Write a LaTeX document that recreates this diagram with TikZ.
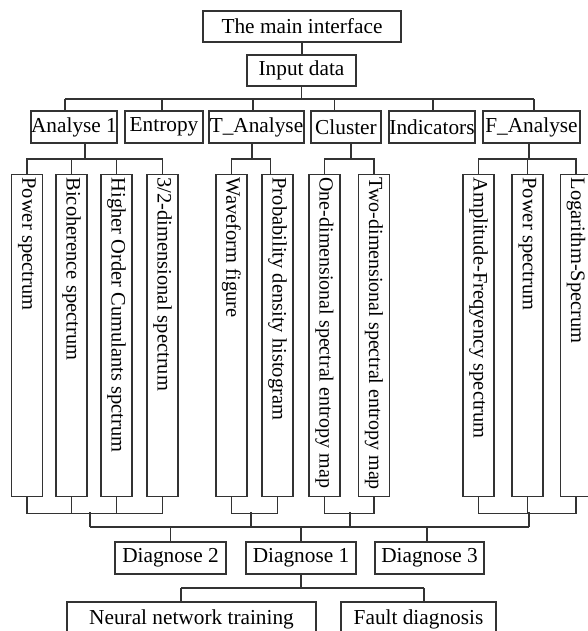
\documentclass[tikz,border=0pt]{standalone}
\usepackage{fontspec}
\setmainfont{Liberation Serif}
\newcommand{\fs}{\fontsize{21.3}{25}\selectfont}
\newcommand{\fv}{\fontsize{20.5}{24}\selectfont}
\newcommand{\vtxt}[1]{\makebox[316pt][l]{#1}}
\begin{document}
\begin{tikzpicture}[x=1pt,y=-1pt,
  ln/.style={line width=1.1pt, draw=black!80},
  hbox/.style={draw=black!80, line width=1.1pt, inner sep=0pt, font=\fs},
  vbox/.style={draw=black!80, line width=1.1pt, rotate=-90, anchor=west,
    minimum width=322pt, minimum height=31pt,
    inner xsep=3pt, inner ysep=0pt, font=\fv},
]
\useasboundingbox (0,0) rectangle (587,631);

% top
\node[hbox, minimum width=198pt, minimum height=31pt] (main) at (302,26.5) {The main interface};
\node[hbox, minimum width=109pt, minimum height=31pt] (in) at (301.5,70.5) {Input data};

% level 2
\node[hbox, minimum width=86pt, minimum height=32pt] (a1) at (74,127) {Analyse 1};
\node[hbox, minimum width=78pt, minimum height=32pt] (ent) at (164,127) {Entropy};
\node[hbox, minimum width=95pt, minimum height=32pt] (ta) at (256.5,127) {T\_Analyse};
\node[hbox, minimum width=70pt, minimum height=32pt] (cl) at (346,127) {Cluster};
\node[hbox, minimum width=86pt, minimum height=32pt] (ind) at (432,127) {Indicators};
\node[hbox, minimum width=97pt, minimum height=32pt] (fa) at (531.5,127) {F\_Analyse};

% tall boxes
\node[vbox] (p1) at (27,174) {\vtxt{Power spectrum}};
\node[vbox] (p2) at (71.5,174) {\vtxt{Bicoherence spectrum}};
\node[vbox] (p3) at (116.5,174) {\vtxt{Higher Order Cumulants spctrum}};
\node[vbox] (p4) at (162.5,174) {\vtxt{3/2-dimensional spectrum}};
\node[vbox] (t1) at (231.5,174) {\vtxt{Waveform figure}};
\node[vbox] (t2) at (277.5,174) {\vtxt{Probability density histogram}};
\node[vbox, font=\fontsize{20}{24}\selectfont] (c1) at (324.5,174) {\vtxt{One-dimensional spectral entropy map}};
\node[vbox, font=\fontsize{20}{24}\selectfont] (c2) at (374,174) {\vtxt{Two-dimensional spectral entropy map}};
\node[vbox] (f1) at (478.5,174) {\vtxt{Amplitude-Freqyency spectrum}};
\node[vbox] (f2) at (527.5,174) {\vtxt{Power spectrum}};
\node[vbox] (f3) at (576,174) {\vtxt{Logarithm-Specrum}};

% diagnose
\node[hbox, minimum width=111pt, minimum height=32pt] (d2) at (170.5,558) {Diagnose 2};
\node[hbox, minimum width=110pt, minimum height=32pt] (d1) at (301,558) {Diagnose 1};
\node[hbox, minimum width=109pt, minimum height=32pt] (d3) at (429.5,558) {Diagnose 3};
\node[hbox, minimum width=249pt, minimum height=34pt] (nn) at (191.5,619) {Neural network training};
\node[hbox, minimum width=155pt, minimum height=34pt] (fd) at (418.5,619) {Fault diagnosis};

% connectors top
\draw[ln] (main.south) -- (main.south |- in.north);
\coordinate (busL) at (65,99);
\coordinate (busR) at (534,99);
\draw[ln] (in.south) -- (in.south |- busL);
\draw[ln] (busL) -- (busR);
\draw[ln] ([xshift=-9pt]a1.north) -- ([xshift=-9pt]a1.north |- busL);
\draw[ln] ([xshift=-2pt]ent.north) -- ([xshift=-2pt]ent.north |- busL);
\draw[ln] ([xshift=-3.5pt]ta.north) -- ([xshift=-3.5pt]ta.north |- busL);
\draw[ln] ([xshift=-11.5pt]cl.north) -- ([xshift=-11.5pt]cl.north |- busL);
\draw[ln] ([xshift=1pt]ind.north) -- ([xshift=1pt]ind.north |- busL);
\draw[ln] ([xshift=2.5pt]fa.north) -- ([xshift=2.5pt]fa.north |- busL);

% level 2 to tall boxes
\draw[ln] ([xshift=11pt]a1.south) -- ++(0,16);
\draw[ln] (p1.west) -- ++(0,-15) -| (p4.west);
\draw[ln] (p2.west) -- ++(0,-15);
\draw[ln] (p3.west) -- ++(0,-15);
\draw[ln] ([xshift=-4.5pt]ta.south) -- ++(0,16);
\draw[ln] (t1.west) -- ++(0,-15) -| ([xshift=-7pt]t2.west);
\draw[ln] ([xshift=5pt]cl.south) -- ++(0,16);
\draw[ln] (c1.west) -- ++(0,-15) -| (c2.west);
\draw[ln] ([xshift=-2.5pt]fa.south) -- ++(0,16);
\draw[ln] (f1.west) -- ++(0,-15) -| (f3.west);
\draw[ln] (f2.west) -- ++(0,-15);

% tall boxes to diagnose
\draw[ln] (p1.east) -- ++(0,16) -| (p4.east);
\draw[ln] (p2.east) -- ++(0,16);
\draw[ln] (p3.east) -- ++(0,16);
\draw[ln] (t1.east) -- ++(0,16) -| (t2.east);
\draw[ln] (c1.east) -- ++(0,16) -| (c2.east);
\draw[ln] (f1.east) -- ++(0,16) -| (f3.east);
\draw[ln] (f2.east) -- ++(0,16);
\coordinate (g1) at (90,512);
\coordinate (g2) at (251,512);
\coordinate (g3) at (350,512);
\coordinate (g4) at (529,512);
\coordinate (bbL) at (90,527);
\coordinate (bbR) at (529,527);
\draw[ln] (g1) -- (g1 |- bbL);
\draw[ln] (g2) -- (g2 |- bbL);
\draw[ln] (g3) -- (g3 |- bbL);
\draw[ln] (g4) -- (g4 |- bbL);
\draw[ln] (bbL) -- (bbR);
\draw[ln] (d2.north) -- (d2.north |- bbL);
\draw[ln] (d1.north) -- (d1.north |- bbL);
\draw[ln] ([xshift=-2.5pt]d3.north) -- ([xshift=-2.5pt]d3.north |- bbL);

% diagnose 1 to bottom
\coordinate (dbL) at (181,588);
\coordinate (dbR) at (424,588);
\draw[ln] (d1.south) -- (d1.south |- dbL);
\draw[ln] (dbL) -- (dbR);
\draw[ln] ([xshift=-10.5pt]nn.north) -- ([xshift=-10.5pt]nn.north |- dbL);
\draw[ln] ([xshift=5.5pt]fd.north) -- ([xshift=5.5pt]fd.north |- dbL);
\end{tikzpicture}
\end{document}
